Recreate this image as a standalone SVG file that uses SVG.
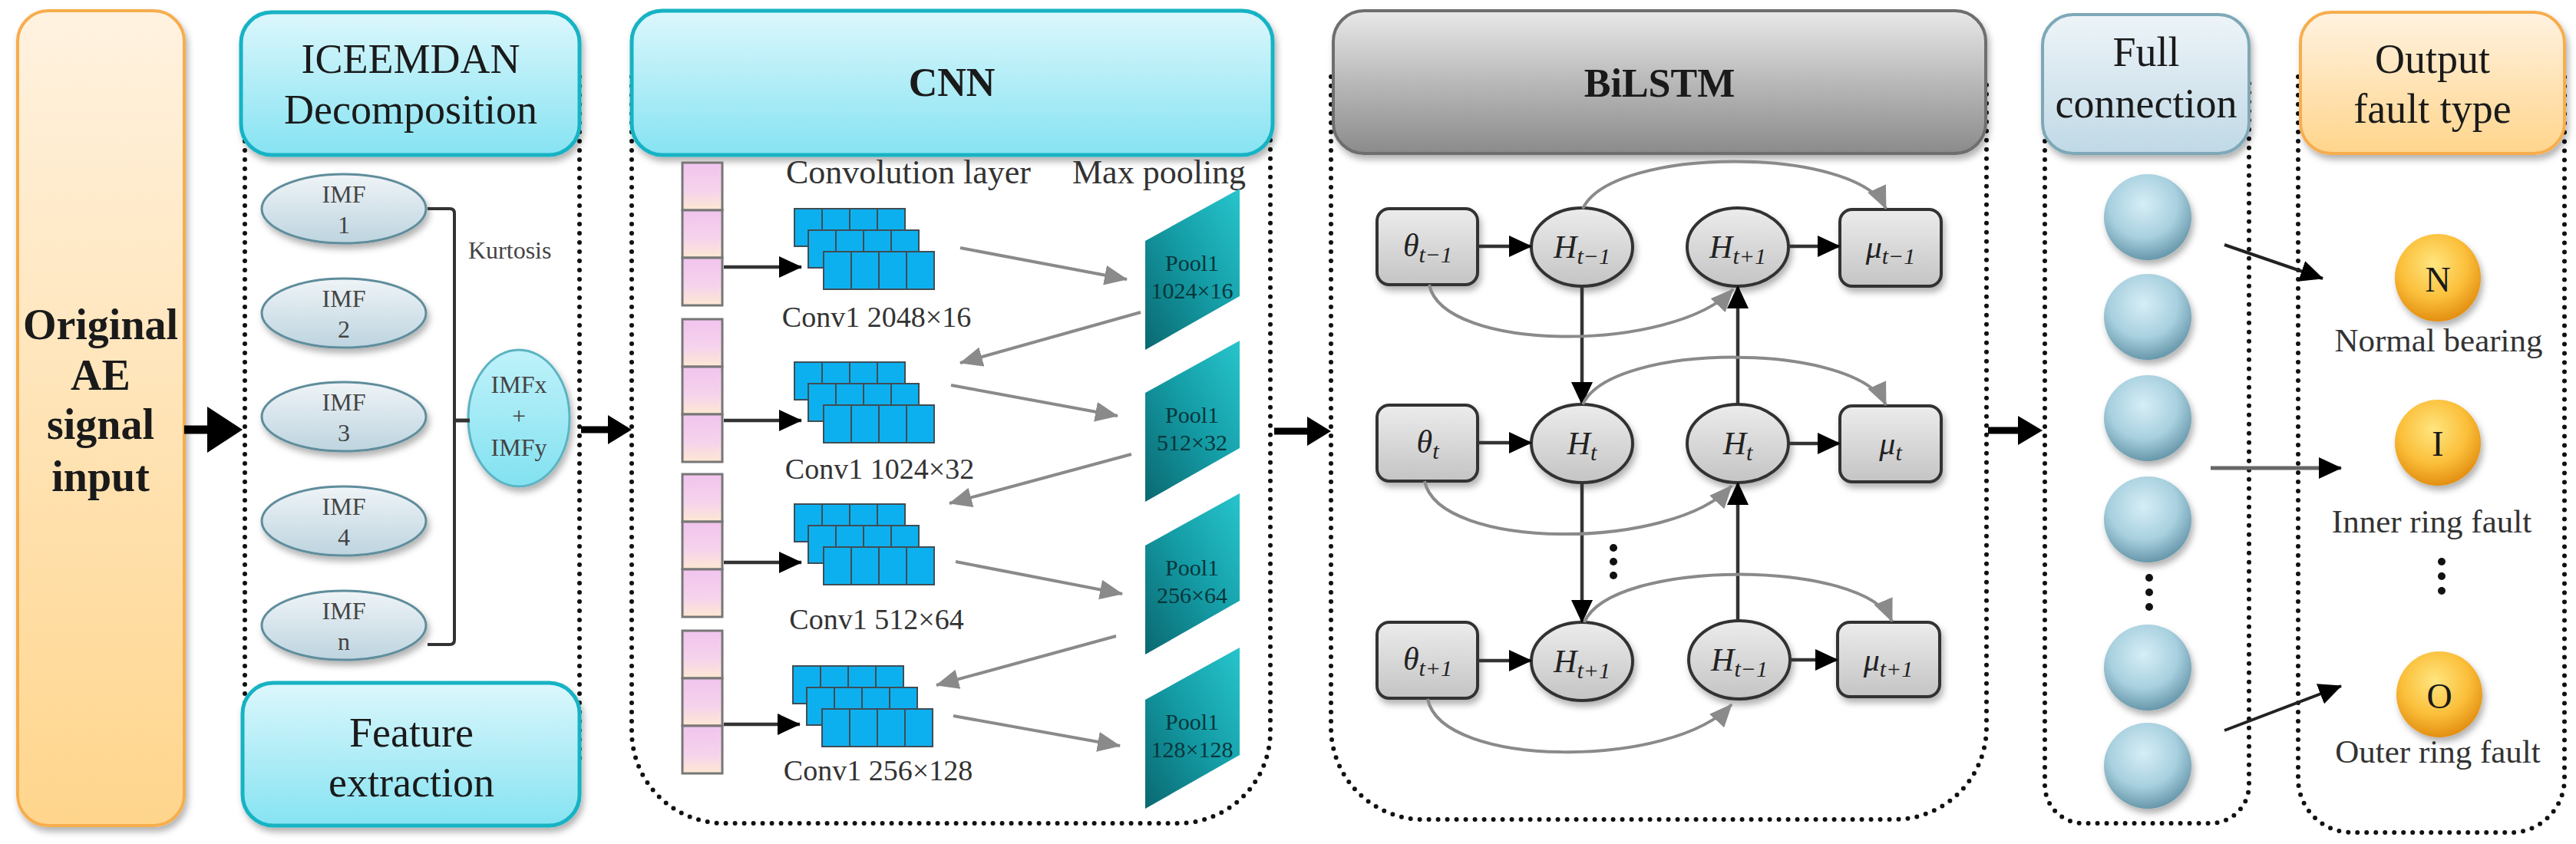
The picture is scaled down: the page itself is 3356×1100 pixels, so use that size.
<svg xmlns="http://www.w3.org/2000/svg" xmlns:xlink="http://www.w3.org/1999/xlink" width="3356" height="1100" viewBox="0 0 3356 1100">
<defs>
<style>
.t{font-family:"Liberation Serif","DejaVu Serif",serif;fill:#1a1a1a}
.hd{font-size:54px;text-anchor:middle}
.hb{font-size:52px;font-weight:bold;text-anchor:middle}
.imf{font-size:32px;fill:#444;text-anchor:middle}
.cv{font-size:38px;fill:#333;text-anchor:middle}
.pl{font-size:30px;fill:#07363b;text-anchor:middle}
.lab{font-size:44px;fill:#333}
.out{font-size:43px;fill:#333;text-anchor:middle}
.m{font-size:42px;font-style:italic;fill:#222;text-anchor:middle}
.dot{fill:none;stroke:#111;stroke-width:6;stroke-dasharray:0 12;stroke-linecap:round}
.gr{fill:none;stroke:#8a8a8a;stroke-width:4}
.bk{fill:none;stroke:#333;stroke-width:4.5}
.node{stroke:#333;stroke-width:4}
</style>
<filter id="sh" x="-20%" y="-20%" width="140%" height="150%"><feDropShadow dx="3" dy="6" stdDeviation="4" flood-color="#000" flood-opacity="0.3"/></filter>
<linearGradient id="gOr" x1="0" y1="0" x2="0" y2="1"><stop offset="0" stop-color="#fff2e0"/><stop offset="1" stop-color="#ffd58c"/></linearGradient>
<linearGradient id="gCy" x1="0" y1="0" x2="0" y2="1"><stop offset="0" stop-color="#dcf7fc"/><stop offset="1" stop-color="#86e3f2"/></linearGradient>
<linearGradient id="gGy" x1="0" y1="0" x2="0" y2="1"><stop offset="0" stop-color="#e8e8e8"/><stop offset="1" stop-color="#8a8a8a"/></linearGradient>
<linearGradient id="gBl" x1="0" y1="0" x2="0" y2="1"><stop offset="0" stop-color="#edf4f8"/><stop offset="1" stop-color="#c0d9e6"/></linearGradient>
<linearGradient id="gImf" x1="0" y1="0" x2="0" y2="1"><stop offset="0" stop-color="#eff4f7"/><stop offset="1" stop-color="#bdd4df"/></linearGradient>
<linearGradient id="gImx" x1="0" y1="0" x2="0" y2="1"><stop offset="0" stop-color="#bff2fa"/><stop offset="1" stop-color="#82e1f0"/></linearGradient>
<linearGradient id="gNode" x1="0" y1="0" x2="0" y2="1"><stop offset="0" stop-color="#ececec"/><stop offset="1" stop-color="#c4c4c4"/></linearGradient>
<linearGradient id="gPink" x1="0" y1="0" x2="0" y2="1"><stop offset="0" stop-color="#f1c4ee"/><stop offset="0.6" stop-color="#f6d3ec"/><stop offset="1" stop-color="#fde8d2"/></linearGradient>
<linearGradient id="gPool" x1="1" y1="0" x2="0" y2="1"><stop offset="0" stop-color="#27c5cd"/><stop offset="0.5" stop-color="#149ba4"/><stop offset="1" stop-color="#0a6870"/></linearGradient>
<radialGradient id="gFc" cx="0.45" cy="0.35" r="0.65"><stop offset="0" stop-color="#d6eef6"/><stop offset="0.6" stop-color="#a8d0df"/><stop offset="1" stop-color="#6898ab"/></radialGradient>
<radialGradient id="gOc" cx="0.45" cy="0.35" r="0.65"><stop offset="0" stop-color="#ffe680"/><stop offset="0.6" stop-color="#fbbf3a"/><stop offset="1" stop-color="#e38f12"/></radialGradient>
<marker id="aG" markerUnits="userSpaceOnUse" markerWidth="30" markerHeight="26" viewBox="0 0 30 26" refX="29" refY="13" orient="auto"><path d="M0,0 L30,13 L0,26 Z" fill="#8a8a8a"/></marker>
<marker id="aB" markerUnits="userSpaceOnUse" markerWidth="30" markerHeight="28" viewBox="0 0 30 28" refX="29" refY="14" orient="auto"><path d="M0,0 L30,14 L0,28 Z" fill="#000"/></marker>
<g id="cell3">
<rect x="0" y="0" width="52" height="62" fill="url(#gPink)" stroke="#777" stroke-width="3"/>
<rect x="0" y="62" width="52" height="62" fill="url(#gPink)" stroke="#777" stroke-width="3"/>
<rect x="0" y="124" width="52" height="62" fill="url(#gPink)" stroke="#777" stroke-width="3"/>
</g>
<g id="layer">
<rect x="0" y="0" width="36" height="49" fill="#0db0ef" stroke="#3f4d55" stroke-width="2"/>
<rect x="36" y="0" width="36" height="49" fill="#0db0ef" stroke="#3f4d55" stroke-width="2"/>
<rect x="72" y="0" width="36" height="49" fill="#0db0ef" stroke="#3f4d55" stroke-width="2"/>
<rect x="108" y="0" width="36" height="49" fill="#0db0ef" stroke="#3f4d55" stroke-width="2"/>
</g>
<g id="stack">
<use xlink:href="#layer"/>
<use xlink:href="#layer" x="18" y="28"/>
<use xlink:href="#layer" x="38" y="56"/>
</g>
<polygon id="pool" points="0,0 123,-68 123,72 0,142" fill="url(#gPool)"/>
</defs>

<rect width="3356" height="1100" fill="#ffffff"/>

<!-- dotted section frames -->
<g id="frames">
<path class="dot" d="M319,100 V1000 M755,100 V1000"/>
<path class="dot" d="M823,100 V953 A120,120 0 0 0 943,1073 H1535 A120,120 0 0 0 1655,953 V100"/>
<path class="dot" d="M1734,100 V948 A120,120 0 0 0 1854,1068 H2468 A120,120 0 0 0 2588,948 V100"/>
<path class="dot" d="M2664,100 V1023 A50,50 0 0 0 2714,1073 H2880 A50,50 0 0 0 2930,1023 V100"/>
<path class="dot" d="M2994,100 V1015 A70,70 0 0 0 3064,1085 H3271 A70,70 0 0 0 3341,1015 V100"/>
</g>

<!-- input -->
<g id="input">
<rect x="23" y="14" width="217" height="1062" rx="40" fill="url(#gOr)" stroke="#f7ad4e" stroke-width="4" filter="url(#sh)"/>
<text class="t" font-size="56" font-weight="bold" text-anchor="middle" x="131" y="442">Original</text>
<text class="t" font-size="56" font-weight="bold" text-anchor="middle" x="131" y="508">AE</text>
<text class="t" font-size="56" font-weight="bold" text-anchor="middle" x="131" y="572">signal</text>
<text class="t" font-size="56" font-weight="bold" text-anchor="middle" x="131" y="640">input</text>
</g>

<!-- ICEEMDAN -->
<g id="iceemdan-header">
<rect x="314" y="16" width="441" height="186" rx="40" fill="url(#gCy)" stroke="#18b3c4" stroke-width="5" filter="url(#sh)"/>
<text class="t hd" x="535" y="95">ICEEMDAN</text>
<text class="t hd" x="535" y="161">Decomposition</text>
</g>
<g id="feature-extraction">
<rect x="316" y="890" width="439" height="186" rx="40" fill="url(#gCy)" stroke="#18b3c4" stroke-width="5" filter="url(#sh)"/>
<text class="t hd" x="536" y="973">Feature</text>
<text class="t hd" x="536" y="1038">extraction</text>
</g>
<g id="imf1"><ellipse cx="448" cy="272" rx="107" ry="45" fill="url(#gImf)" stroke="#5f8d9c" stroke-width="3" filter="url(#sh)"/><text class="t imf" x="448" y="264">IMF</text><text class="t imf" x="448" y="304">1</text></g>
<g id="imf2"><ellipse cx="448" cy="408" rx="107" ry="45" fill="url(#gImf)" stroke="#5f8d9c" stroke-width="3" filter="url(#sh)"/><text class="t imf" x="448" y="400">IMF</text><text class="t imf" x="448" y="440">2</text></g>
<g id="imf3"><ellipse cx="448" cy="543" rx="107" ry="45" fill="url(#gImf)" stroke="#5f8d9c" stroke-width="3" filter="url(#sh)"/><text class="t imf" x="448" y="535">IMF</text><text class="t imf" x="448" y="575">3</text></g>
<g id="imf4"><ellipse cx="448" cy="679" rx="107" ry="45" fill="url(#gImf)" stroke="#5f8d9c" stroke-width="3" filter="url(#sh)"/><text class="t imf" x="448" y="671">IMF</text><text class="t imf" x="448" y="711">4</text></g>
<g id="imfn"><ellipse cx="448" cy="815" rx="107" ry="45" fill="url(#gImf)" stroke="#5f8d9c" stroke-width="3" filter="url(#sh)"/><text class="t imf" x="448" y="807">IMF</text><text class="t imf" x="448" y="847">n</text></g>
<g id="kurtosis"><text class="t" font-size="32" fill="#444" x="610" y="337" style="fill:#444">Kurtosis</text></g>
<g id="imfxy"><ellipse cx="676" cy="545" rx="66" ry="89" fill="url(#gImx)" stroke="#5cb3c2" stroke-width="3" filter="url(#sh)"/><text class="t imf" x="676" y="512">IMFx</text><text class="t imf" x="676" y="553">+</text><text class="t imf" x="676" y="594">IMFy</text></g>

<!-- CNN -->
<g id="cnn-header">
<rect x="823" y="14" width="835" height="188" rx="40" fill="url(#gCy)" stroke="#18b3c4" stroke-width="5" filter="url(#sh)"/>
<text class="t hb" x="1240" y="125">CNN</text>
</g>
<g id="cnn-labels">
<text class="t lab" x="1024" y="239">Convolution layer</text>
<text class="t lab" x="1397" y="239">Max pooling</text>
</g>
<g id="input-maps">
<use xlink:href="#cell3" x="889" y="212"/>
<use xlink:href="#cell3" x="889" y="416"/>
<use xlink:href="#cell3" x="889" y="618"/>
<use xlink:href="#cell3" x="889" y="822"/>
</g>
<g id="conv1"><use xlink:href="#stack" x="1035" y="272"/><text class="t cv" x="1142" y="426">Conv1 2048×16</text></g>
<g id="conv2"><use xlink:href="#stack" x="1035" y="472"/><text class="t cv" x="1146" y="624">Conv1 1024×32</text></g>
<g id="conv3"><use xlink:href="#stack" x="1035" y="657"/><text class="t cv" x="1142" y="820">Conv1 512×64</text></g>
<g id="conv4"><use xlink:href="#stack" x="1033" y="868"/><text class="t cv" x="1144" y="1017">Conv1 256×128</text></g>
<g id="pool1"><use xlink:href="#pool" x="1492" y="314"/><text class="t pl" x="1553" y="353">Pool1</text><text class="t pl" x="1553" y="389">1024×16</text></g>
<g id="pool2"><use xlink:href="#pool" x="1492" y="512"/><text class="t pl" x="1553" y="551">Pool1</text><text class="t pl" x="1553" y="587">512×32</text></g>
<g id="pool3"><use xlink:href="#pool" x="1492" y="711"/><text class="t pl" x="1553" y="750">Pool1</text><text class="t pl" x="1553" y="786">256×64</text></g>
<g id="pool4"><use xlink:href="#pool" x="1492" y="912"/><text class="t pl" x="1553" y="951">Pool1</text><text class="t pl" x="1553" y="987">128×128</text></g>

<!-- BiLSTM -->
<g id="bilstm-header">
<rect x="1737" y="14" width="850" height="186" rx="40" fill="url(#gGy)" stroke="#6e6e6e" stroke-width="4" filter="url(#sh)"/>
<text class="t hb" x="2162" y="126">BiLSTM</text>
</g>
<g id="theta1"><rect class="node" x="1794" y="272" width="131" height="99" rx="16" fill="url(#gNode)" filter="url(#sh)"/><text class="t m" x="1860" y="334">θ<tspan font-size="30" dy="8">t−1</tspan></text></g>
<g id="theta2"><rect class="node" x="1794" y="528" width="131" height="99" rx="16" fill="url(#gNode)" filter="url(#sh)"/><text class="t m" x="1860" y="590">θ<tspan font-size="30" dy="8">t</tspan></text></g>
<g id="theta3"><rect class="node" x="1794" y="811" width="131" height="99" rx="16" fill="url(#gNode)" filter="url(#sh)"/><text class="t m" x="1860" y="873">θ<tspan font-size="30" dy="8">t+1</tspan></text></g>
<g id="hf1"><ellipse class="node" cx="2061" cy="322" rx="66" ry="51" fill="url(#gNode)" filter="url(#sh)"/><text class="t m" x="2061" y="336">H<tspan font-size="30" dy="8">t−1</tspan></text></g>
<g id="hf2"><ellipse class="node" cx="2061" cy="578" rx="66" ry="51" fill="url(#gNode)" filter="url(#sh)"/><text class="t m" x="2061" y="592">H<tspan font-size="30" dy="8">t</tspan></text></g>
<g id="hf3"><ellipse class="node" cx="2061" cy="862" rx="66" ry="51" fill="url(#gNode)" filter="url(#sh)"/><text class="t m" x="2061" y="876">H<tspan font-size="30" dy="8">t+1</tspan></text></g>
<g id="hb1"><ellipse class="node" cx="2264" cy="322" rx="66" ry="51" fill="url(#gNode)" filter="url(#sh)"/><text class="t m" x="2264" y="336">H<tspan font-size="30" dy="8">t+1</tspan></text></g>
<g id="hb2"><ellipse class="node" cx="2264" cy="578" rx="66" ry="51" fill="url(#gNode)" filter="url(#sh)"/><text class="t m" x="2264" y="592">H<tspan font-size="30" dy="8">t</tspan></text></g>
<g id="hb3"><ellipse class="node" cx="2266" cy="860" rx="66" ry="51" fill="url(#gNode)" filter="url(#sh)"/><text class="t m" x="2266" y="874">H<tspan font-size="30" dy="8">t−1</tspan></text></g>
<g id="mu1"><rect class="node" x="2397" y="273" width="132" height="100" rx="16" fill="url(#gNode)" filter="url(#sh)"/><text class="t m" x="2463" y="336">μ<tspan font-size="30" dy="8">t−1</tspan></text></g>
<g id="mu2"><rect class="node" x="2397" y="529" width="132" height="99" rx="16" fill="url(#gNode)" filter="url(#sh)"/><text class="t m" x="2463" y="592">μ<tspan font-size="30" dy="8">t</tspan></text></g>
<g id="mu3"><rect class="node" x="2394" y="811" width="133" height="97" rx="16" fill="url(#gNode)" filter="url(#sh)"/><text class="t m" x="2460" y="874">μ<tspan font-size="30" dy="8">t+1</tspan></text></g>
<g id="bilstm-dots"><circle cx="2102" cy="714" r="5" fill="#111"/><circle cx="2102" cy="732" r="5" fill="#111"/><circle cx="2102" cy="750" r="5" fill="#111"/></g>

<!-- Full connection -->
<g id="fc-header">
<rect x="2661" y="19" width="269" height="181" rx="40" fill="url(#gBl)" stroke="#7ea8b8" stroke-width="4" filter="url(#sh)"/>
<text class="t hd" x="2796" y="86">Full</text>
<text class="t hd" x="2796" y="153">connection</text>
</g>
<g id="fc1"><ellipse cx="2798" cy="283" rx="57" ry="56" fill="url(#gFc)" filter="url(#sh)"/></g>
<g id="fc2"><ellipse cx="2798" cy="413" rx="57" ry="56" fill="url(#gFc)" filter="url(#sh)"/></g>
<g id="fc3"><ellipse cx="2798" cy="545" rx="57" ry="56" fill="url(#gFc)" filter="url(#sh)"/></g>
<g id="fc4"><ellipse cx="2798" cy="677" rx="57" ry="56" fill="url(#gFc)" filter="url(#sh)"/></g>
<g id="fc5"><ellipse cx="2798" cy="870" rx="57" ry="56" fill="url(#gFc)" filter="url(#sh)"/></g>
<g id="fc6"><ellipse cx="2798" cy="998" rx="57" ry="56" fill="url(#gFc)" filter="url(#sh)"/></g>
<g id="fc-dots"><circle cx="2800" cy="753" r="5" fill="#111"/><circle cx="2800" cy="772" r="5" fill="#111"/><circle cx="2800" cy="791" r="5" fill="#111"/></g>

<!-- Output -->
<g id="out-header">
<rect x="2997" y="16" width="344" height="184" rx="40" fill="url(#gOr)" stroke="#f7ad4e" stroke-width="4" filter="url(#sh)"/>
<text class="t hd" x="3169" y="95">Output</text>
<text class="t hd" x="3169" y="160">fault type</text>
</g>
<g id="out-n"><ellipse cx="3176" cy="362" rx="56" ry="57" fill="url(#gOc)" filter="url(#sh)"/><text class="t" font-size="46" text-anchor="middle" x="3176" y="380">N</text><text class="t out" x="3177" y="458">Normal bearing</text></g>
<g id="out-i"><ellipse cx="3176" cy="577" rx="56" ry="56" fill="url(#gOc)" filter="url(#sh)"/><text class="t" font-size="46" text-anchor="middle" x="3176" y="594">I</text><text class="t out" x="3168" y="694">Inner ring fault</text></g>
<g id="out-o"><ellipse cx="3178" cy="905" rx="56" ry="56" fill="url(#gOc)" filter="url(#sh)"/><text class="t" font-size="46" text-anchor="middle" x="3178" y="923">O</text><text class="t out" x="3176" y="994">Outer ring fault</text></g>
<g id="out-dots"><circle cx="3181" cy="732" r="5" fill="#111"/><circle cx="3181" cy="751" r="5" fill="#111"/><circle cx="3181" cy="770" r="5" fill="#111"/></g>

<!-- connectors -->
<g id="connectors">
<!-- section arrows -->
<path d="M240,560 H274" stroke="#000" stroke-width="11" fill="none"/>
<polygon points="270,530 316,560 270,590" fill="#000"/>
<path d="M757,560 H796" stroke="#000" stroke-width="9" fill="none"/>
<polygon points="792,541 823,560 792,579" fill="#000"/>
<path d="M1660,562 H1706" stroke="#000" stroke-width="9" fill="none"/>
<polygon points="1703,543 1734,562 1703,581" fill="#000"/>
<path d="M2590,561 H2632" stroke="#000" stroke-width="9" fill="none"/>
<polygon points="2629,542 2661,561 2629,580" fill="#000"/>
<!-- ICEEMDAN bracket -->
<path d="M557,272 H586 Q592,272 592,278 V834 Q592,840 586,840 H557" fill="none" stroke="#333" stroke-width="4"/>
<path d="M592,548 H612" fill="none" stroke="#333" stroke-width="5"/>
<!-- CNN -->
<path class="bk" d="M943,348 H1044" marker-end="url(#aB)"/>
<path class="bk" d="M943,548 H1044" marker-end="url(#aB)"/>
<path class="bk" d="M943,733 H1044" marker-end="url(#aB)"/>
<path class="bk" d="M943,944 H1042" marker-end="url(#aB)"/>
<path class="gr" d="M1251,323 L1468,364" marker-end="url(#aG)"/>
<path class="gr" d="M1486,407 L1251,473" marker-end="url(#aG)"/>
<path class="gr" d="M1239,502 L1456,542" marker-end="url(#aG)"/>
<path class="gr" d="M1474,592 L1237,656" marker-end="url(#aG)"/>
<path class="gr" d="M1245,732 L1462,774" marker-end="url(#aG)"/>
<path class="gr" d="M1454,829 L1220,893" marker-end="url(#aG)"/>
<path class="gr" d="M1242,933 L1459,972" marker-end="url(#aG)"/>
<!-- BiLSTM black -->
<path class="bk" d="M1925,321 H1995" marker-end="url(#aB)"/>
<path class="bk" d="M1925,577 H1995" marker-end="url(#aB)"/>
<path class="bk" d="M1925,861 H1995" marker-end="url(#aB)"/>
<path class="bk" d="M2330,321 H2397" marker-end="url(#aB)"/>
<path class="bk" d="M2330,578 H2397" marker-end="url(#aB)"/>
<path class="bk" d="M2332,860 H2394" marker-end="url(#aB)"/>
<path class="bk" d="M2061,373 V527" marker-end="url(#aB)"/>
<path class="bk" d="M2061,629 V811" marker-end="url(#aB)"/>
<path class="bk" d="M2264,527 V373" marker-end="url(#aB)"/>
<path class="bk" d="M2264,809 V629" marker-end="url(#aB)"/>
<!-- BiLSTM gray curves -->
<path class="gr" d="M2062,272 C2100,190 2420,190 2457,272" marker-end="url(#aG)"/>
<path class="gr" d="M2062,527 C2100,445 2420,445 2457,528" marker-end="url(#aG)"/>
<path class="gr" d="M2064,811 C2100,728 2430,728 2465,810" marker-end="url(#aG)"/>
<path class="gr" d="M1862,371 C1880,460 2180,460 2258,377" marker-end="url(#aG)"/>
<path class="gr" d="M1856,627 C1874,718 2180,718 2256,633" marker-end="url(#aG)"/>
<path class="gr" d="M1860,911 C1878,1002 2180,1002 2256,918" marker-end="url(#aG)"/>
<!-- FC to output -->
<path d="M2898,319 L3026,363" fill="none" stroke="#222" stroke-width="4" marker-end="url(#aB)"/>
<path d="M2880,610 L3050,610" fill="none" stroke="#666" stroke-width="5" marker-end="url(#aB)"/>
<path d="M2898,952 L3050,894" fill="none" stroke="#222" stroke-width="4" marker-end="url(#aB)"/>
</g>
</svg>
